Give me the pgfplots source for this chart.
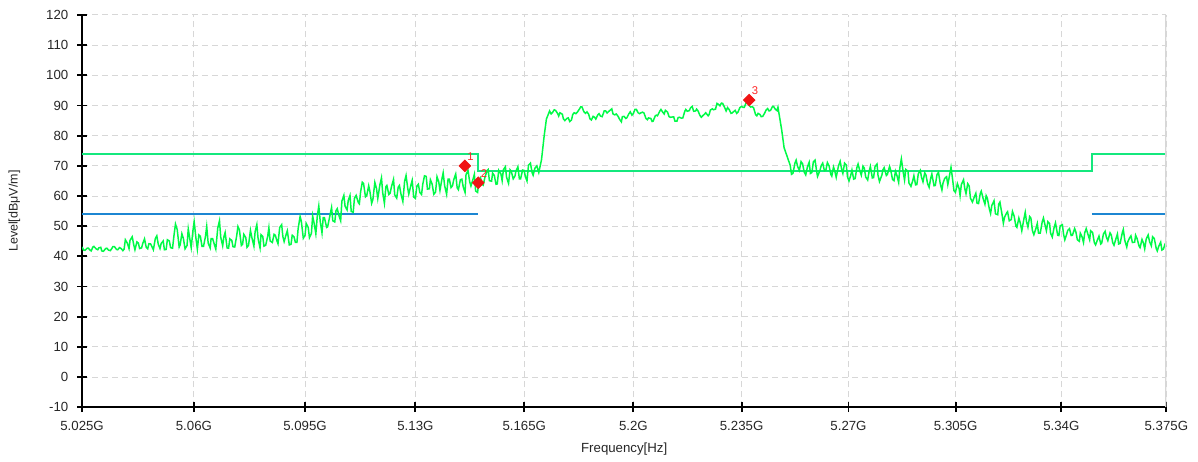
\documentclass[border=0pt]{standalone}
\usepackage{fontspec}
\setmainfont{Liberation Sans}
\usepackage{pgfplots}
\pgfplotsset{compat=1.18}
\definecolor{trace}{RGB}{0,250,70}
\definecolor{limgreen}{RGB}{20,232,125}
\definecolor{limblue}{RGB}{28,134,210}
\definecolor{gridgray}{RGB}{215,215,215}
\definecolor{mkred}{RGB}{240,20,20}
\begin{document}
\begin{tikzpicture}
\begin{axis}[
  xmode=log,
  scale only axis, width=433.7pt, height=156.9pt,
  xmin=5.025, xmax=5.375, ymin=-10, ymax=120,
  axis x line*=bottom, axis y line*=left,
  axis line style={black, line width=0.8pt},
  xtick={5.025,5.06,5.095,5.13,5.165,5.2,5.235,5.27,5.305,5.34,5.375},
  xticklabels={5.025G,5.06G,5.095G,5.13G,5.165G,5.2G,5.235G,5.27G,5.305G,5.34G,5.375G},
  ytick={-10,0,10,20,30,40,50,60,70,80,90,100,110,120},
  minor xtick={}, minor tick num=0,
  grid=major,
  major grid style={gridgray, line width=0.4pt, dash pattern=on 2.4pt off 1.6pt},
  tick align=center, major tick length=4pt,
  tick style={black, line width=0.75pt},
  tick label style={font=\fontsize{5.3}{6.4}\selectfont, text=black!85},
  /pgf/number format/assume math mode=true,
  xlabel={Frequency[Hz]},
  xlabel style={at={(axis description cs:0.5,0)}, anchor=center, yshift=-16.6pt,
    font=\fontsize{5.3}{6.4}\selectfont, text=black!85},
  ylabel={Level[dBμV/m]},
  ylabel style={at={(axis description cs:-0.0624,0.5)}, anchor=center,
    font=\fontsize{5}{6}\selectfont, text=black!85},
]
% limit lines
\addplot[limgreen, line width=0.8pt] coordinates {(5.025,74) (5.150,74) (5.150,68.2) (5.350,68.2) (5.350,74) (5.375,74)};
\addplot[limblue, line width=0.8pt] coordinates {(5.025,54) (5.150,54)};
\addplot[limblue, line width=0.8pt] coordinates {(5.350,54) (5.375,54)};
% measured trace
\addplot[trace, line width=0.6pt] coordinates {
(5.0250,43.1) (5.02550,42.1) (5.0260,42.0) (5.02650,42.7) (5.0270,42.7) (5.02745,42.1) (5.0279,41.8) (5.02840,43.1)
(5.0289,43.3) (5.02940,42.5) (5.0299,42.2) (5.03035,42.8) (5.0308,43.0) (5.03130,41.8) (5.0318,41.7) (5.03230,42.6)
(5.0328,42.7) (5.03330,42.1) (5.0338,41.9) (5.03425,42.6) (5.0347,43.2) (5.03520,43.2) (5.0357,42.3) (5.03620,42.2)
(5.0367,42.9) (5.03720,42.6) (5.0377,41.9) (5.03815,42.4) (5.0386,45.5) (5.03910,44.4) (5.0396,42.6) (5.04010,45.3)
(5.0406,46.5) (5.04110,43.9) (5.0416,42.2) (5.04210,44.8) (5.0426,44.4) (5.04305,42.6) (5.0435,42.8) (5.04400,44.3)
(5.0445,45.8) (5.04500,43.0) (5.0455,42.5) (5.04600,44.2) (5.0465,44.1) (5.04695,42.9) (5.0474,42.2) (5.04790,45.9)
(5.0484,46.8) (5.04890,44.0) (5.0494,42.6) (5.04990,44.3) (5.0504,45.1) (5.05085,42.2) (5.0513,42.3) (5.05180,45.5)
(5.0523,45.1) (5.05280,42.9) (5.0533,42.7) (5.05380,47.0) (5.0543,50.7) (5.05480,48.9) (5.0553,43.1) (5.05575,43.8)
(5.0562,47.5) (5.05670,46.0) (5.0572,42.5) (5.05770,43.6) (5.0582,49.1) (5.05870,46.5) (5.0592,42.9) (5.05970,48.5)
(5.0602,51.5) (5.06065,46.2) (5.0611,42.4) (5.06160,47.1) (5.0621,46.7) (5.06260,43.3) (5.0631,43.3) (5.06360,46.6)
(5.0641,49.9) (5.06455,44.4) (5.0650,42.8) (5.06550,45.9) (5.0660,45.9) (5.06650,43.7) (5.0670,42.4) (5.06750,49.4)
(5.0680,51.8) (5.06850,46.4) (5.0690,43.5) (5.06950,46.5) (5.0700,47.9) (5.07045,42.8) (5.0709,42.7) (5.07140,45.8)
(5.0719,45.3) (5.07240,43.2) (5.0729,43.1) (5.07340,46.8) (5.0739,49.9) (5.07440,48.8) (5.0749,43.6) (5.07535,44.0)
(5.0758,47.3) (5.07630,46.2) (5.0768,43.0) (5.07730,43.6) (5.0778,48.6) (5.07830,46.5) (5.0788,43.4) (5.07930,48.2)
(5.0798,50.5) (5.08025,45.9) (5.0807,42.8) (5.08120,47.2) (5.0817,46.6) (5.08220,43.4) (5.0827,43.7) (5.08320,46.6)
(5.0837,49.5) (5.08420,45.1) (5.0847,44.6) (5.08520,47.3) (5.0857,47.0) (5.08615,45.1) (5.0866,44.2) (5.08710,49.6)
(5.0876,50.5) (5.08810,46.5) (5.0886,44.9) (5.08910,47.5) (5.0896,48.5) (5.09010,43.8) (5.0906,44.0) (5.09110,47.0)
(5.0916,46.5) (5.09205,44.6) (5.0925,44.6) (5.09300,49.2) (5.0935,53.2) (5.09400,51.6) (5.0945,46.0) (5.09500,47.0)
(5.0955,50.9) (5.09600,49.6) (5.0965,46.2) (5.09700,47.6) (5.0975,53.4) (5.09800,51.0) (5.0985,47.5) (5.09895,53.4)
(5.0994,56.7) (5.09990,51.5) (5.1004,47.8) (5.10090,52.8) (5.1014,52.8) (5.10190,49.6) (5.1024,49.8) (5.10290,53.0)
(5.1034,56.2) (5.10390,51.8) (5.1044,51.4) (5.10485,55.1) (5.1053,55.8) (5.10580,53.3) (5.1063,51.8) (5.10680,58.3)
(5.1073,60.2) (5.10780,56.6) (5.1083,55.4) (5.10880,58.6) (5.1093,60.2) (5.10980,54.9) (5.1103,54.6) (5.11080,59.2)
(5.1113,60.2) (5.11180,57.8) (5.1123,57.4) (5.11275,61.3) (5.1132,64.6) (5.11370,64.2) (5.1142,59.7) (5.11470,60.1)
(5.1152,63.4) (5.11570,61.5) (5.1162,57.6) (5.11670,58.8) (5.1172,64.5) (5.11770,62.4) (5.1182,59.2) (5.11870,63.9)
(5.1192,66.0) (5.11970,61.1) (5.1202,57.6) (5.12065,63.1) (5.1211,63.5) (5.12160,60.5) (5.1221,60.9) (5.12260,63.2)
(5.1231,65.5) (5.12360,60.4) (5.1241,59.3) (5.12460,62.9) (5.1251,63.5) (5.12560,60.4) (5.1261,58.2) (5.12660,64.8)
(5.1271,66.8) (5.12760,62.5) (5.1281,60.6) (5.12860,63.7) (5.1291,65.2) (5.12955,59.7) (5.1300,59.2) (5.13050,63.3)
(5.1310,63.9) (5.13150,61.2) (5.1320,60.5) (5.13250,63.9) (5.1330,66.7) (5.13350,66.5) (5.1340,62.3) (5.13450,62.4)
(5.1350,65.4) (5.13550,64.0) (5.1360,60.6) (5.13650,61.3) (5.1370,66.4) (5.13750,64.7) (5.1380,61.9) (5.13850,66.1)
(5.1390,67.7) (5.13950,63.4) (5.1400,60.6) (5.14045,65.6) (5.1409,65.6) (5.14140,62.8) (5.1419,63.4) (5.14240,65.4)
(5.1429,67.3) (5.14340,62.7) (5.1439,62.1) (5.14440,65.4) (5.1449,65.6) (5.14540,62.9) (5.1459,61.2) (5.14640,67.1)
(5.1469,68.5) (5.14740,64.7) (5.1479,63.3) (5.14840,66.0) (5.1489,67.2) (5.14940,61.7) (5.1499,61.2) (5.15040,65.4)
(5.1509,66.1) (5.15140,63.9) (5.1519,63.6) (5.15240,66.3) (5.1529,68.5) (5.15335,68.8) (5.1538,65.1) (5.15430,64.9)
(5.1548,67.6) (5.15530,66.8) (5.1558,63.9) (5.15630,64.0) (5.1568,68.5) (5.15730,67.3) (5.1578,65.1) (5.15830,68.7)
(5.1588,69.7) (5.15930,66.2) (5.1598,64.2) (5.16030,68.7) (5.1608,68.2) (5.16130,65.7) (5.1618,66.6) (5.16230,68.2)
(5.1628,69.7) (5.16330,65.7) (5.1638,65.7) (5.16430,68.6) (5.1648,68.5) (5.16530,66.3) (5.1658,65.0) (5.16630,70.2)
(5.1668,70.9) (5.16730,67.7) (5.1678,66.9) (5.16830,69.2) (5.1688,70.0)
(5.1696,67.8) (5.1704,72.0) (5.1712,80.0) (5.1720,85.5)
(5.173,88.2) (5.1735,87.2) (5.174,87.7) (5.1745,88.6) (5.175,88.4) (5.1755,87.3) (5.176,86.5) (5.1765,87.6)
(5.177,87.1) (5.1775,85.6) (5.178,85.0) (5.1785,85.7) (5.179,85.9) (5.1795,84.7) (5.180,85.2) (5.1805,87.0)
(5.181,87.6) (5.1815,87.3) (5.182,87.8) (5.1825,88.8) (5.183,89.6) (5.1835,89.5) (5.184,88.0) (5.1845,87.4)
(5.185,87.9) (5.1855,87.1) (5.186,85.6) (5.1865,85.2) (5.187,86.4) (5.1875,86.1) (5.188,85.5) (5.1885,86.9)
(5.189,87.3) (5.1895,86.5) (5.190,86.3) (5.1905,88.2) (5.191,88.2) (5.1915,87.5) (5.192,88.0) (5.1925,88.5)
(5.193,88.9) (5.1935,87.2) (5.194,86.9) (5.1945,87.2) (5.195,86.5) (5.1955,85.4) (5.196,84.6) (5.1965,86.3)
(5.197,86.4) (5.1975,85.7) (5.198,85.9) (5.1985,87.2) (5.199,87.9) (5.1995,86.8) (5.200,87.4) (5.2005,88.7)
(5.201,88.7) (5.2015,87.6) (5.202,87.3) (5.2025,87.6) (5.203,87.8) (5.2035,87.5) (5.204,85.7) (5.2045,85.3)
(5.205,85.9) (5.2055,85.7) (5.206,84.7) (5.2065,84.8) (5.207,86.6) (5.2075,86.8) (5.208,86.6) (5.2085,88.1)
(5.209,88.7) (5.2095,87.7) (5.210,87.2) (5.2105,88.4) (5.211,87.8) (5.2115,86.3) (5.212,86.1) (5.2125,86.2)
(5.213,86.2) (5.2135,84.8) (5.214,84.8) (5.2145,86.0) (5.215,86.1) (5.2155,85.8) (5.216,85.9) (5.2165,88.1)
(5.217,88.7) (5.2175,88.1) (5.218,88.3) (5.2185,89.3) (5.219,89.7) (5.2195,88.1) (5.220,88.2) (5.2205,88.8)
(5.221,88.2) (5.2215,86.8) (5.222,86.1) (5.2225,86.7) (5.223,87.1) (5.2235,87.6) (5.224,86.6) (5.2245,87.0)
(5.225,88.5) (5.2255,88.9) (5.226,88.6) (5.2265,88.8) (5.227,90.7) (5.2275,90.5) (5.228,89.9) (5.2285,90.8)
(5.229,90.7) (5.2295,89.2) (5.230,88.2) (5.2305,89.3) (5.231,88.6) (5.2315,87.4) (5.232,87.5) (5.2325,88.0)
(5.233,88.4) (5.2335,87.4) (5.234,87.9) (5.2345,89.3) (5.235,89.7) (5.2355,89.4) (5.236,89.4) (5.2365,91.2)
(5.237,91.4) (5.2375,90.0) (5.238,89.5) (5.2385,89.6) (5.239,89.2) (5.2395,87.0) (5.240,86.6) (5.2405,87.4)
(5.241,87.0) (5.2415,86.3) (5.242,86.4) (5.2425,87.5) (5.243,88.4) (5.2435,89.0) (5.244,88.2) (5.2445,88.4)
(5.245,89.7) (5.2455,89.7) (5.246,88.9) (5.2465,88.3) (5.247,89.4) (5.248,82.0) (5.249,76.0) (5.250,72.5)
(5.2509,70.1) (5.25140,67.2) (5.2519,67.5) (5.25240,70.9) (5.2529,71.9) (5.25340,69.8) (5.2539,68.5) (5.25440,71.4)
(5.2549,70.7) (5.25545,67.9) (5.2560,67.0) (5.25650,69.7) (5.2570,71.2) (5.25750,67.5) (5.2580,67.8) (5.25850,71.3)
(5.2590,71.9) (5.25950,68.4) (5.2600,66.5) (5.26050,68.5) (5.2610,70.1) (5.26150,70.9) (5.2620,68.4) (5.26250,68.6)
(5.2630,71.1) (5.26350,70.0) (5.2640,67.2) (5.26450,66.6) (5.2650,69.6) (5.26550,68.3) (5.2660,66.2) (5.26655,69.9)
(5.2671,71.5) (5.26760,68.9) (5.2681,67.5) (5.26860,70.9) (5.2691,70.3) (5.26960,66.3) (5.2701,65.0) (5.27060,66.8)
(5.2711,68.6) (5.27160,65.6) (5.2721,65.8) (5.27260,69.4) (5.2731,70.6) (5.27360,68.4) (5.2741,66.9) (5.27460,69.9)
(5.2751,69.3) (5.27565,66.3) (5.2762,65.3) (5.27670,68.2) (5.2772,69.8) (5.27770,66.0) (5.2782,66.1) (5.27870,69.8)
(5.2792,70.6) (5.27970,66.9) (5.2802,64.8) (5.28070,67.0) (5.2812,68.7) (5.28170,69.4) (5.2822,66.8) (5.28270,67.1)
(5.2832,69.8) (5.28375,68.5) (5.2843,65.5) (5.28480,65.1) (5.2853,68.2) (5.28580,66.8) (5.2863,64.5) (5.28680,69.4)
(5.2873,72.3) (5.28780,68.2) (5.2883,65.3) (5.28880,68.8) (5.2893,68.2) (5.28980,64.3) (5.2903,63.2) (5.29085,65.0)
(5.2914,66.7) (5.29190,63.7) (5.2924,63.8) (5.29290,67.4) (5.2934,68.5) (5.29390,66.2) (5.2944,64.7) (5.29490,67.7)
(5.2954,67.0) (5.29590,64.0) (5.2964,62.9) (5.29690,65.7) (5.2974,67.3) (5.29795,63.4) (5.2985,63.5) (5.29900,67.1)
(5.2995,67.9) (5.30000,64.2) (5.3005,62.0) (5.30100,64.1) (5.3015,65.8) (5.30200,66.4) (5.3025,63.8) (5.30300,65.5)
(5.3035,69.5) (5.30400,66.5) (5.3045,61.8) (5.30505,61.2) (5.3056,64.1) (5.30610,62.5) (5.3066,60.1) (5.30710,63.8)
(5.3076,65.4) (5.30810,62.5) (5.3086,60.8) (5.30910,64.1) (5.3096,63.3) (5.31010,59.3) (5.3106,58.0) (5.31115,59.5)
(5.3117,60.9) (5.31220,57.6) (5.3127,57.5) (5.31320,60.8) (5.3137,61.6) (5.31420,59.1) (5.3147,57.3) (5.31520,60.1)
(5.3157,59.2) (5.31620,55.7) (5.3167,54.2) (5.31725,56.9) (5.3178,58.4) (5.31830,54.1) (5.3188,53.8) (5.31930,57.3)
(5.3198,58.0) (5.32030,53.7) (5.3208,51.0) (5.32130,53.0) (5.3218,54.5) (5.32235,54.8) (5.3229,51.8) (5.32340,52.2)
(5.3239,54.9) (5.32440,53.3) (5.3249,50.0) (5.32540,49.6) (5.3259,52.7) (5.32640,51.0) (5.3269,48.5) (5.32745,52.6)
(5.3280,54.6) (5.32850,51.6) (5.3290,49.7) (5.32950,53.2) (5.3300,52.7) (5.33050,48.6) (5.3310,47.2) (5.33150,49.1)
(5.3320,50.9) (5.33250,47.7) (5.3330,47.7) (5.33355,51.4) (5.3341,52.7) (5.33460,50.2) (5.3351,48.5) (5.33560,51.5)
(5.3361,50.9) (5.33660,47.7) (5.3371,46.4) (5.33765,49.4) (5.3382,51.1) (5.33870,47.0) (5.3392,46.9) (5.33970,50.1)
(5.3402,50.5) (5.34070,47.3) (5.3412,45.5) (5.34170,47.2) (5.3422,48.6) (5.34275,49.2) (5.3433,46.9) (5.34380,47.0)
(5.3443,49.2) (5.34480,48.1) (5.3453,45.5) (5.34580,45.0) (5.3463,47.7) (5.34680,46.5) (5.3473,44.6) (5.34785,47.8)
(5.3484,49.2) (5.34890,46.8) (5.3494,45.5) (5.34990,48.5) (5.3504,47.9) (5.35090,44.6) (5.3514,43.8) (5.35195,45.3)
(5.3525,46.7) (5.35300,44.1) (5.3535,44.4) (5.35400,47.4) (5.3545,48.3) (5.35500,46.4) (5.3555,45.2) (5.35605,47.8)
(5.3566,47.1) (5.35710,44.5) (5.3576,43.7) (5.35810,46.1) (5.3586,47.4) (5.35910,44.1) (5.3596,44.3) (5.36010,47.9)
(5.3606,48.9) (5.36115,45.3) (5.3617,43.1) (5.36220,44.8) (5.3627,46.2) (5.36320,46.8) (5.3637,44.6) (5.36420,44.7)
(5.3647,47.0) (5.36525,45.9) (5.3658,43.4) (5.36630,42.9) (5.3668,45.6) (5.36730,44.4) (5.3678,42.5) (5.36830,45.7)
(5.3688,47.1) (5.36935,44.8) (5.3699,43.5) (5.37040,46.5) (5.3709,45.9) (5.37140,42.6) (5.3719,41.8) (5.37245,43.3)
(5.3730,44.7) (5.37350,42.1) (5.3740,42.4) (5.37450,43.9) (5.3750,43.2)
};
% markers
\addplot[only marks, mark=square*, mark size=1.6pt, mark options={rotate=45, mkred, fill=mkred},
  nodes near coords, point meta=explicit symbolic,
  every node near coord/.append style={anchor=center, xshift=2.3pt, yshift=3.7pt, inner sep=0pt,
    font=\fontsize{4.5}{5}\selectfont, text=red!85}]
  coordinates {(5.1458,70.0) [1] (5.1501,64.4) [2] (5.2376,91.8) [3]};
\addplot[gridgray, line width=0.8pt] coordinates {(5.375,-10) (5.375,120)};
\end{axis}
\pgfresetboundingbox
\path[use as bounding box] ([xshift=-32.7pt,yshift=-21.9pt]current axis.south west)
  rectangle ([xshift=12.8pt,yshift=6pt]current axis.north east);
\end{tikzpicture}
\end{document}
